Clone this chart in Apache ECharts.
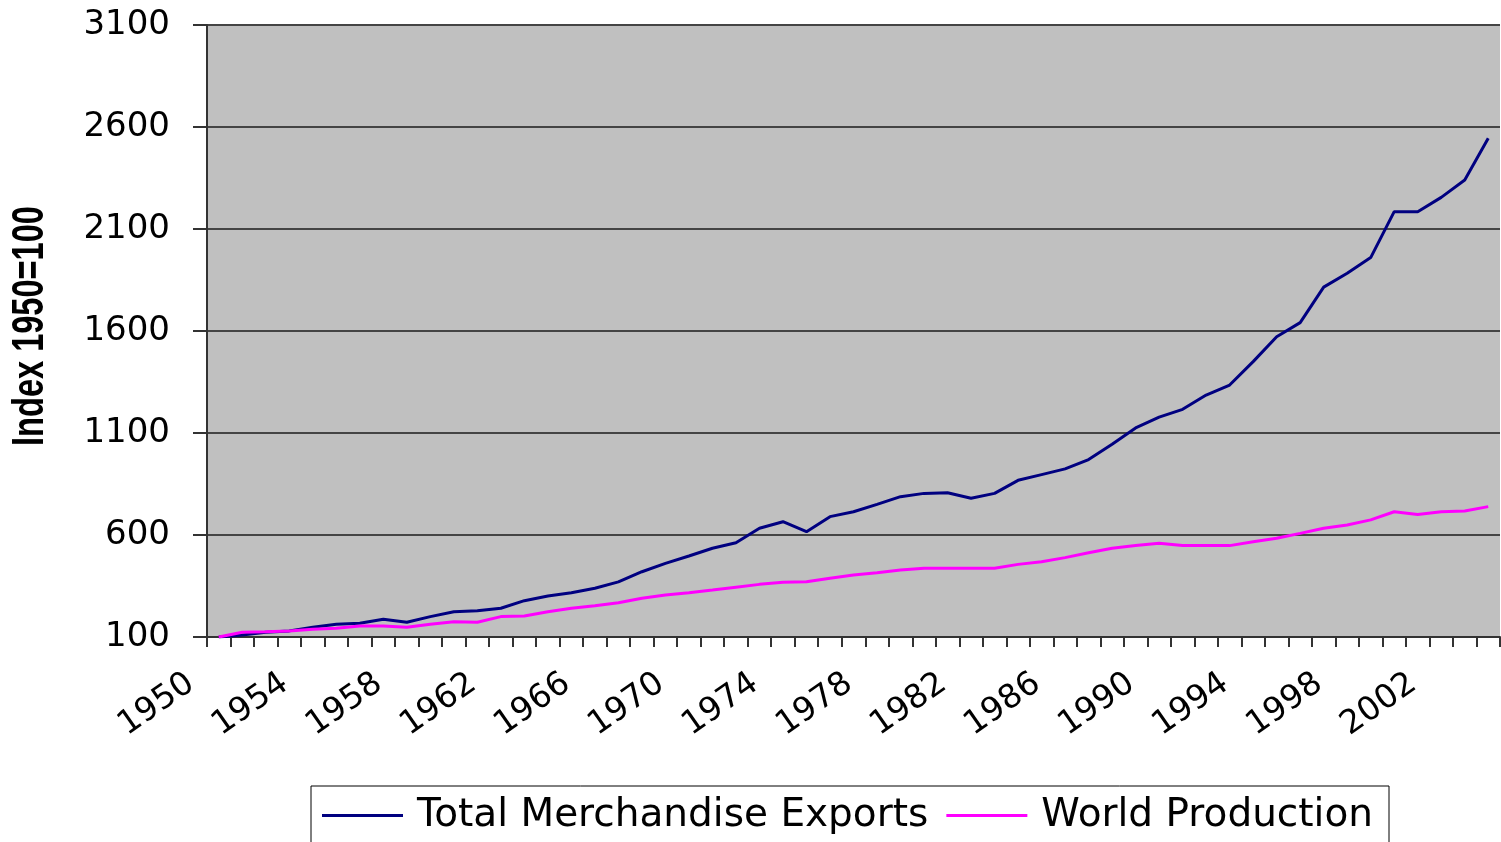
<!DOCTYPE html>
<html><head><meta charset="utf-8">
<script src="https://cdn.jsdelivr.net/npm/echarts@6/dist/echarts.min.js"></script>
<style>html,body{margin:0;padding:0;background:#fff}#c{width:1501px;height:842px}</style>
</head><body><div id="c"></div>
<script>
const years = ["1950","1951","1952","1953","1954","1955","1956","1957","1958","1959",
  "1960","1961","1962","1963","1964","1965","1966","1967","1968","1969",
  "1970","1971","1972","1973","1974","1975","1976","1977","1978","1979",
  "1980","1981","1982","1983","1984","1985","1986","1987","1988","1989",
  "1990","1991","1992","1993","1994","1995","1996","1997","1998","1999",
  "2000","2001","2002","2003","2004"];
const merchandiseExports = [100,110,123,130,148,162,167,187,172,200,
  224,229,241,278,301,317,339,370,420,461,
  497,535,562,633,665,616,690,714,750,788,
  804,807,780,804,868,896,924,970,1045,1125,
  1178,1216,1286,1335,1450,1572,1641,1815,1883,1960,
  2185,2185,2255,2340,2545];
const worldProduction = [100,123,126,130,138,143,154,154,148,162,
  175,172,200,203,224,241,253,268,290,306,
  317,330,344,358,368,371,388,404,415,428,
  437,437,437,437,456,469,489,513,535,548,
  559,548,548,548,567,584,608,633,649,674,
  714,701,714,718,739];
const seriesNames = ["Total Merchandise Exports", "World Production"];
const yMin = 100, yMax = 3100, yStep = 500;
const axisName = "Index 1950=100";

const chart = echarts.init(document.getElementById('c'), null, {renderer: 'canvas'});
chart.setOption({
  animation: false,
  backgroundColor: '#ffffff',
  grid: {left: 207, right: 1, top: 25, bottom: 205, show: true, outerBoundsMode: 'none',
         containLabel: false, backgroundColor: '#C0C0C0', borderWidth: 0},
  graphic: [{
    type: 'text',
    x: 31, y: 326,
    rotation: Math.PI / 2,
    scaleX: 0.74,
    style: {text: axisName, fontFamily: "'Liberation Sans', Arial, sans-serif", fontWeight: 'bold',
      fontSize: 44, fill: '#000', textAlign: 'center', textVerticalAlign: 'middle'}
  }],
  legend: {
    data: seriesNames,
    left: 311, top: 786,
    orient: 'horizontal',
    backgroundColor: '#ffffff',
    borderColor: '#000000', borderWidth: 1,
    padding: [10, 16, 30, 11],
    itemGap: 18,
    itemWidth: 81, itemHeight: 3,
    icon: 'rect',
    textStyle: {fontFamily: 'DejaVu Sans', fontSize: 39, color: '#000', padding: [0, 0, 0, 9]}
  },
  xAxis: {
    type: 'category',
    data: years,
    boundaryGap: true,
    axisLine: {show: true, lineStyle: {color: '#333333', width: 2}},
    axisTick: {show: true, interval: 0, length: 10, lineStyle: {color: '#333333', width: 2}},
    axisLabel: {interval: 3, rotate: 35, margin: 24, padding: [0, 34, 0, 0],
      fontFamily: 'DejaVu Sans', fontSize: 33, color: '#000'},
    splitLine: {show: false}
  },
  yAxis: {
    type: 'value',
    min: yMin, max: yMax, interval: yStep,
    axisLine: {show: true, lineStyle: {color: '#333333', width: 2}},
    axisTick: {show: true, length: 14, lineStyle: {color: '#333333', width: 2}},
    axisLabel: {margin: 37, fontFamily: 'DejaVu Sans', fontSize: 34, color: '#000',
      formatter: function (v) { return String(v); }},
    splitLine: {show: true, lineStyle: {color: '#444444', width: 2}}
  },
  series: [
    {name: seriesNames[0], type: 'line', data: merchandiseExports, showSymbol: false, symbol: 'none',
     lineStyle: {color: '#000080', width: 3}, itemStyle: {color: '#000080'}},
    {name: seriesNames[1], type: 'line', data: worldProduction, showSymbol: false, symbol: 'none',
     lineStyle: {color: '#FF00FF', width: 3}, itemStyle: {color: '#FF00FF'}}
  ]
});
</script></body></html>
